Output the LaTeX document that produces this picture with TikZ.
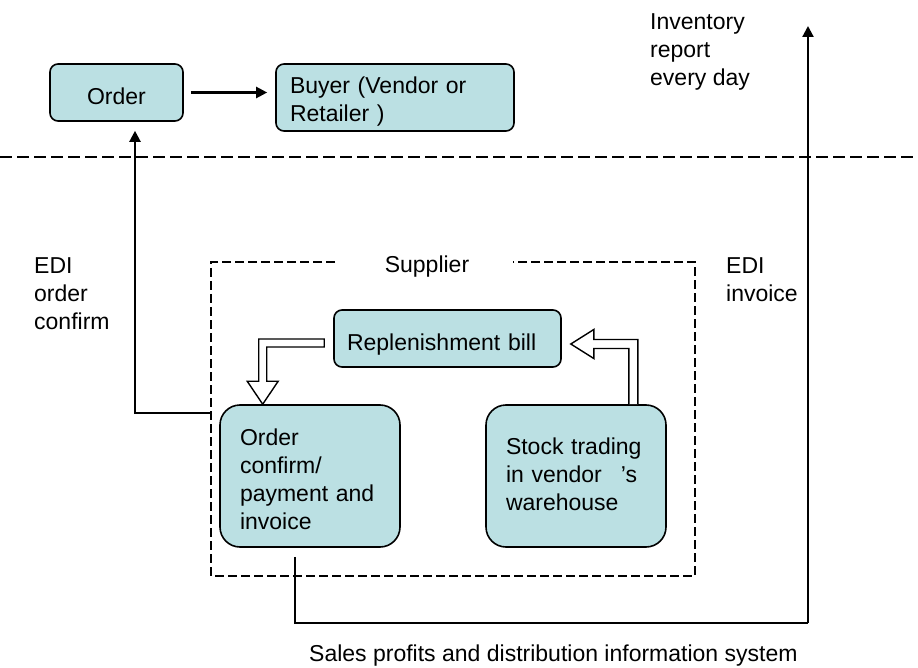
\documentclass[tikz,border=0pt]{standalone}
\usepackage{fontspec}
\setmainfont{Liberation Sans}
\usetikzlibrary{arrows.meta,calc}
\definecolor{boxfill}{RGB}{187,224,227}
\begin{document}
\begin{tikzpicture}[x=1pt,y=-1pt,
  font=\fontsize{23}{28}\selectfont,
  box/.style={draw=black,fill=boxfill,line width=1.6pt,rounded corners=8pt},
  bigbox/.style={box,rounded corners=20pt,minimum width=180pt,minimum height=142pt,
    inner xsep=20pt,text width=140pt,align=left},
  lower/.style={execute at begin node={\rule{0pt}{#1}}},
  label/.style={inner sep=0pt,align=left,anchor=west},
  link/.style={line width=2.2pt},
  linkarrow/.style={link,-{Triangle[length=11pt,width=11pt]}},
  hollow/.style={draw=black,fill=white,line width=1.4pt,line join=miter},
  sep/.style={line width=2.3pt,dash pattern=on 12pt off 5pt},
  frame/.style={line width=1.8pt,dash pattern=on 9pt off 4pt}]
\useasboundingbox (0,0) rectangle (918,668);

% buyer side
\node[box,lower=24pt,minimum width=133pt,minimum height=57pt] (order) at (116.5,92.5) {Order};
\node[box,lower=25pt,minimum height=67pt,inner xsep=14pt,text width=210pt,align=left] (buyer)
  at (395,97.5) {Buyer (Vendor or\\Retailer )};
\node[label] (inv) at (650,51.5) {Inventory\\report\\every day};

% separator between buyer and supplier
\coordinate (sepL) at (0,157);
\coordinate (sepR) at (918,157);
\draw[sep] (sepL) -- (sepR);

% supplier frame
\node (sup) at (427,267) {Supplier};
\coordinate (fNW) at (211,262);
\coordinate (fSE) at (695,576);
\draw[frame] ($(fNW)+(124,0)$) -- (fNW) -- (fNW |- fSE) -- (fSE) -- (fSE |- fNW) -- ($(fNW)+(302,0)$);

% supplier boxes
\node[box,lower=29pt,minimum width=227pt,minimum height=57pt,inner xsep=13pt,text width=201pt,
  align=left] (rep) at (447.5,338.5) {Replenishment bill};
\node[bigbox,lower=24pt] (ocb) at (310,476) {Order\\confirm/\\payment and\\invoice};
\node[bigbox] (stk) at (576,476)
  {Stock trading\\in vendor\hspace{19pt}’s\\warehouse\rule[-4pt]{0pt}{0pt}};

% side labels
\node[label] (edio) at (34,294) {EDI\\order\\confirm};
\node[label] (edii) at (726,280) {EDI\\invoice};
\node[label] (sales) at (309,656) {Sales profits and distribution information system};

% hollow arrow: replenishment bill -> order confirm
\coordinate (a1s) at ($(rep.west)+(-9,4.5)$);
\coordinate (a1t) at ($(ocb.north west)+(43.5,0)$);
\draw[hollow] ($(a1s)+(0,-4)$) -- ($(a1t |- a1s)+(-4,-4)$) -- ($(a1t)+(-4,-23)$)
  -- ($(a1t)+(-15.5,-23)$) -- (a1t) -- ($(a1t)+(15.5,-23)$) -- ($(a1t)+(4,-23)$)
  -- ($(a1t |- a1s)+(4,4)$) -- ($(a1s)+(0,4)$) -- cycle;

% hollow arrow: stock trading -> replenishment bill
\coordinate (a2s) at ($(stk.north east)+(-33.5,0)$);
\coordinate (a2t) at ($(rep.east)+(9,5.5)$);
\draw[hollow] ($(a2s)+(-4.5,0)$) -- ($(a2s |- a2t)+(-4.5,4.5)$) -- ($(a2t)+(23,4.5)$)
  -- ($(a2t)+(23,14.5)$) -- (a2t) -- ($(a2t)+(23,-14.5)$) -- ($(a2t)+(23,-4.5)$)
  -- ($(a2s |- a2t)+(4.5,-4.5)$) -- ($(a2s)+(4.5,0)$);

% order -> buyer
\draw[linkarrow,shorten <=7pt,shorten >=8pt] (order.east) -- (order.east -| buyer.west);

% EDI order confirm back to the order
\coordinate (c1) at ($(ocb.north west)+(-9,9)$);
\coordinate (oc) at ($(order.south)+(18.5,0)$);
\draw[linkarrow,shorten >=9pt] (c1) -| (oc);

% EDI invoice / inventory report
\coordinate (b1) at ($(ocb.south west)+(76,9)$);
\coordinate (bc) at (808,623);
\coordinate (invtop) at (808,26);
\draw[line width=1.5pt] (b1) |- (bc);
\draw[linkarrow] (bc) -- (invtop);
\end{tikzpicture}
\end{document}
